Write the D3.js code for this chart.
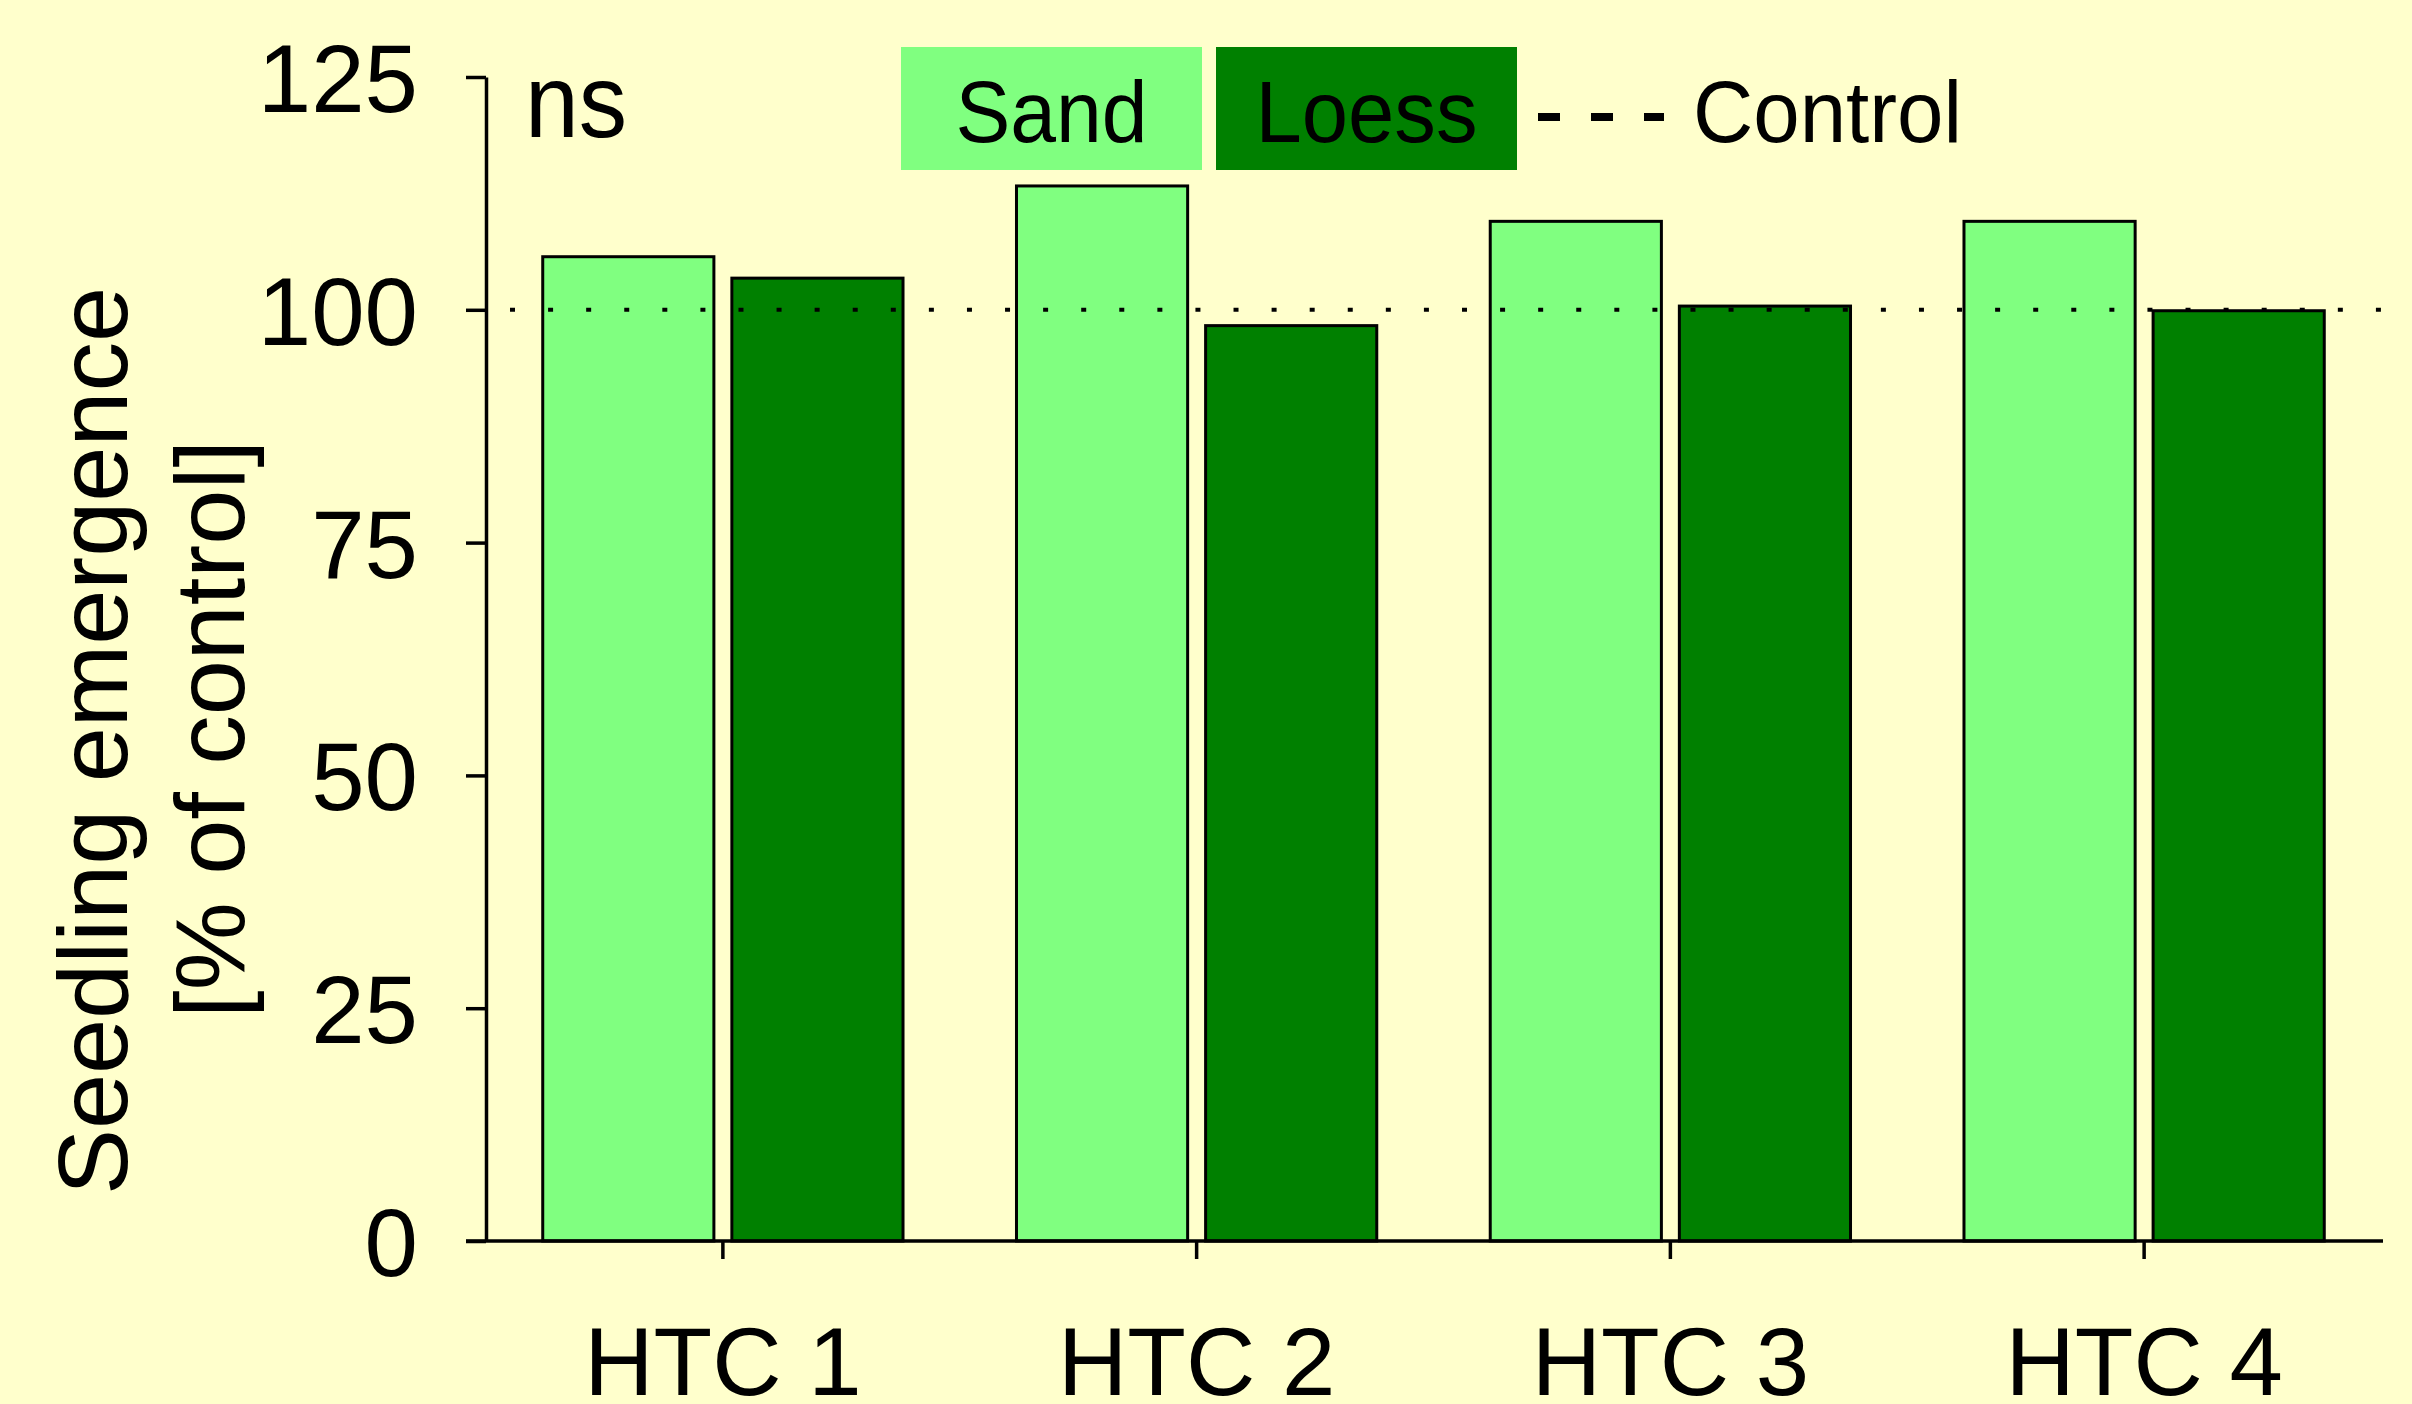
<!DOCTYPE html>
<html>
<head>
<meta charset="utf-8">
<script src="https://cdn.jsdelivr.net/npm/d3@7"></script>
<style>
body { margin: 0; background: #ffffcc; }
text { font-family: "Liberation Sans", Arial, sans-serif; fill: #000; }
</style>
</head>
<body>
<svg width="2412" height="1404"></svg>
<script>
// data
var categories = ["HTC 1", "HTC 2", "HTC 3", "HTC 4"];
var soils = ["Sand", "Loess"];
var sand = [105.7, 113.3, 109.5, 109.5];
var loess = [103.4, 98.3, 100.4, 99.9];
var yTicks = [0, 25, 50, 75, 100, 125];
var control = 100;

var colors = { Sand: "#80ff80", Loess: "#008000" };

var svg = d3.select("svg");
svg.append("rect").attr("width", 2412).attr("height", 1404).attr("fill", "#ffffcc");

var y = d3.scaleLinear().domain([0, 125]).range([1241, 77]);

var x0 = d3.scaleBand()
    .domain(categories)
    .range([486, 2381]);

var x1 = d3.scaleBand()
    .domain(soils)
    .range([0, x0.bandwidth()])
    .paddingInner(0.095)
    .paddingOuter(0.30);

var rows = categories.map(function(c, i) {
    return { cat: c, values: [ { soil: "Sand", v: sand[i] }, { soil: "Loess", v: loess[i] } ] };
});

// bars
var groups = svg.append("g").selectAll("g")
    .data(rows)
    .enter().append("g")
    .attr("transform", function(d) { return "translate(" + x0(d.cat) + ",0)"; });

groups.selectAll("rect")
    .data(function(d) { return d.values; })
    .enter().append("rect")
    .attr("x", function(d) { return x1(d.soil); })
    .attr("y", function(d) { return y(d.v); })
    .attr("width", x1.bandwidth())
    .attr("height", function(d) { return y(0) - y(d.v); })
    .attr("fill", function(d) { return colors[d.soil]; })
    .attr("stroke", "#000")
    .attr("stroke-width", 3);

// control line (dotted), drawn over the bars
svg.append("line")
    .attr("x1", 510).attr("x2", 2384)
    .attr("y1", y(control)).attr("y2", y(control))
    .attr("stroke", "#000")
    .attr("stroke-width", 4)
    .attr("stroke-dasharray", "5,33.08");

// y axis
var yAxis = d3.axisLeft(y)
    .tickValues(yTicks)
    .tickSize(20)
    .tickSizeOuter(0)
    .tickPadding(48);

var gy = svg.append("g")
    .attr("transform", "translate(486,0)")
    .call(yAxis);
gy.select(".domain").attr("stroke-width", 3.5);
gy.selectAll(".tick line").attr("stroke-width", 3.5);
gy.selectAll(".tick text")
    .style("font-family", "'Liberation Sans', Arial, sans-serif")
    .style("font-size", "96px")
    .attr("fill", "#000")
    .attr("dy", "0.36em");

// x axis
var xAxis = d3.axisBottom(x0)
    .tickSize(18)
    .tickSizeOuter(0)
    .tickPadding(68);

var gx = svg.append("g")
    .attr("transform", "translate(0," + y(0) + ")")
    .call(xAxis);
gx.select(".domain").remove();
gx.append("line")
    .attr("x1", 466).attr("x2", x0.range()[1] + 2)
    .attr("stroke", "#000").attr("stroke-width", 3.5);
gx.selectAll(".tick line").attr("stroke-width", 3.5);
gx.selectAll(".tick text")
    .style("font-family", "'Liberation Sans', Arial, sans-serif")
    .style("font-size", "96px")
    .attr("fill", "#000")
    .attr("dy", "0.71em");

// y axis title
svg.append("text")
    .attr("transform", "translate(127,741) rotate(-90)")
    .attr("text-anchor", "middle")
    .style("font-size", "99px")
    .text("Seedling emergence");
svg.append("text")
    .attr("transform", "translate(244,729) rotate(-90)")
    .attr("text-anchor", "middle")
    .style("font-size", "99px")
    .text("[% of control]");

// significance label
svg.append("text")
    .attr("x", 525).attr("y", 137)
    .style("font-size", "104px")
    .attr("textLength", 102)
    .attr("lengthAdjust", "spacingAndGlyphs")
    .text("ns");

// legend
var legendBoxes = [ { soil: "Sand", x: 901, w: 301, tw: 192 }, { soil: "Loess", x: 1216, w: 301, tw: 222 } ];
var leg = svg.append("g").selectAll("g")
    .data(legendBoxes)
    .enter().append("g");
leg.append("rect")
    .attr("x", function(d) { return d.x; })
    .attr("y", 47)
    .attr("width", function(d) { return d.w; })
    .attr("height", 123)
    .attr("fill", function(d) { return colors[d.soil]; });
leg.append("text")
    .attr("x", function(d) { return d.x + d.w / 2; })
    .attr("y", 142)
    .attr("text-anchor", "middle")
    .style("font-size", "88px")
    .attr("textLength", function(d) { return d.tw; })
    .attr("lengthAdjust", "spacingAndGlyphs")
    .text(function(d) { return d.soil; });

svg.append("line")
    .attr("x1", 1538).attr("x2", 1664)
    .attr("y1", 117).attr("y2", 117)
    .attr("stroke", "#000")
    .attr("stroke-width", 8)
    .attr("stroke-dasharray", "22,31");
svg.append("text")
    .attr("x", 1693).attr("y", 142)
    .style("font-size", "88px")
    .attr("textLength", 269)
    .attr("lengthAdjust", "spacingAndGlyphs")
    .text("Control");
</script>
</body>
</html>
